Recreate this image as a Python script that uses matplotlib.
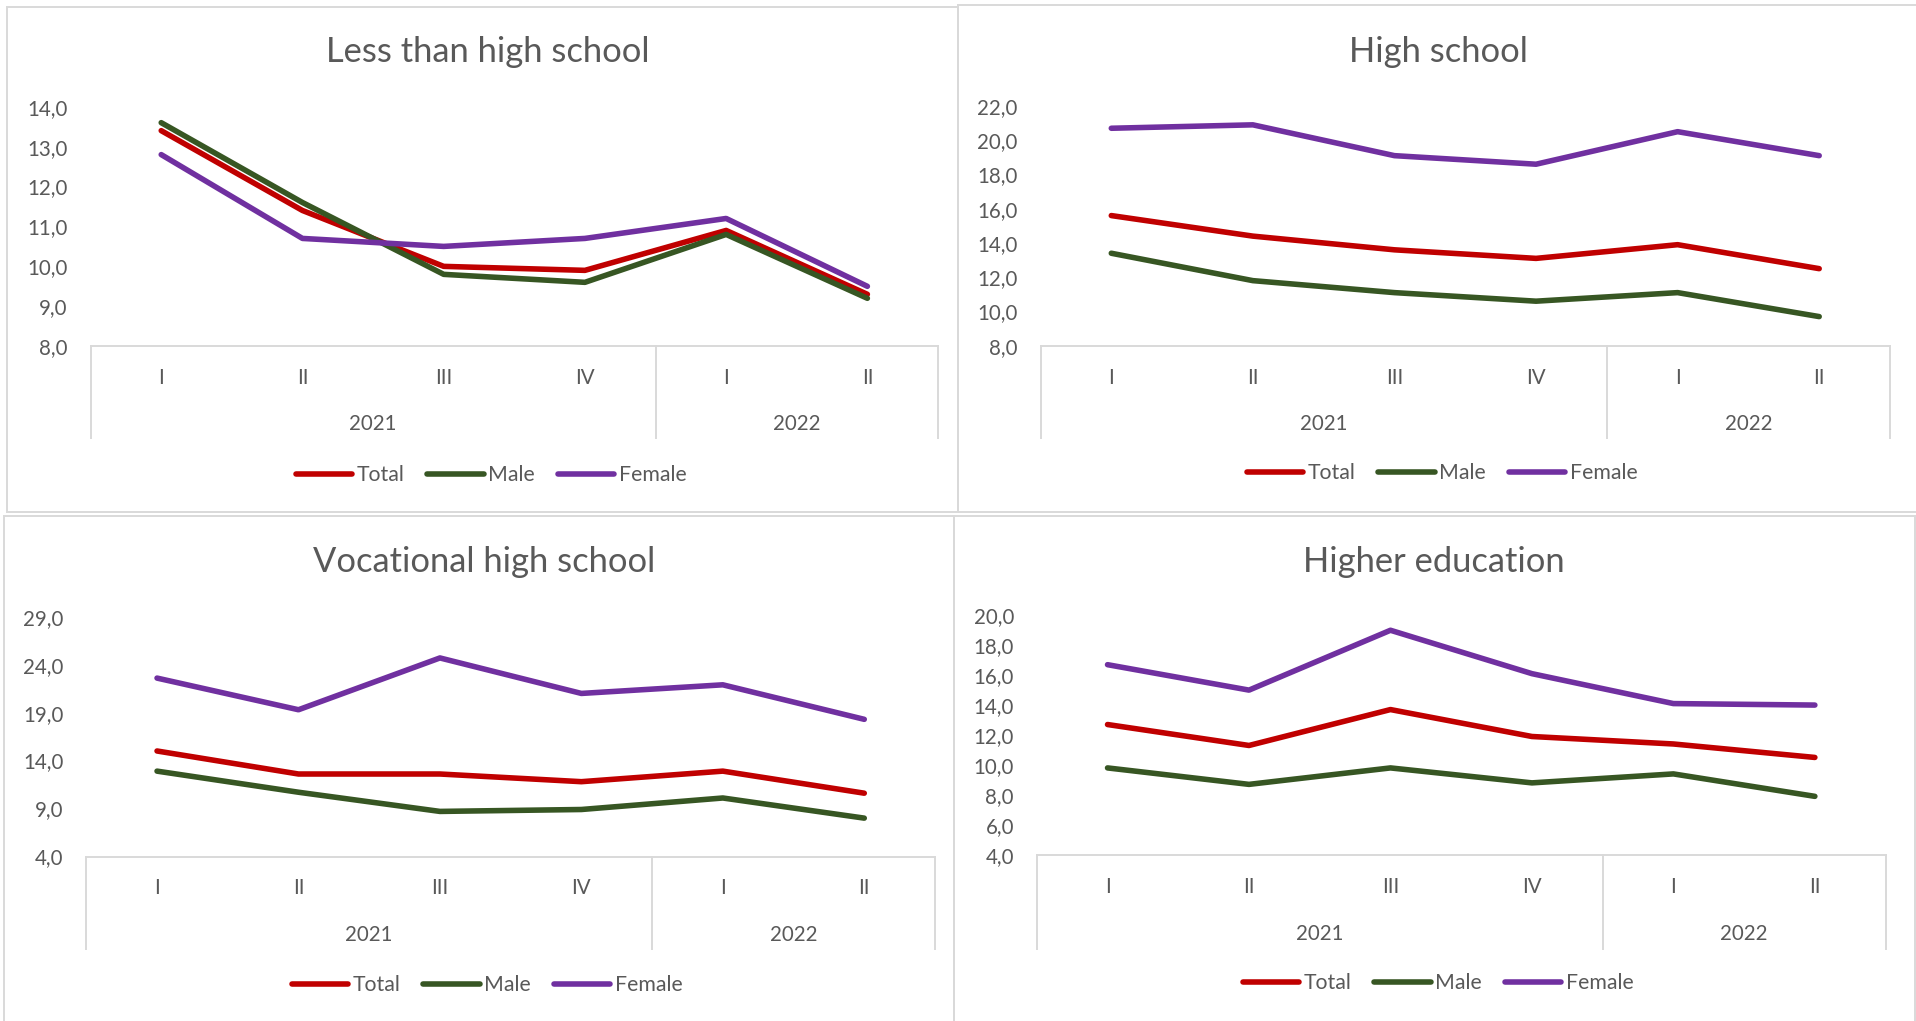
import numpy as np
import matplotlib
matplotlib.use("Agg")
import matplotlib.pyplot as plt
import matplotlib.transforms as mtransforms
from matplotlib.patches import Rectangle
from matplotlib.lines import Line2D

plt.rcParams["font.family"] = ["Lato", "DejaVu Sans"]

# ─────────────────────────────────────────────────────────────
#  Data
# ─────────────────────────────────────────────────────────────
quarters = ["I", "II", "III", "IV", "I", "II"]
years = ["2021", "2022"]
year_spans = [4, 2]
series_names = ["Total", "Male", "Female"]

less_total = [13.4, 11.4, 10.0, 9.9, 10.9, 9.3]
less_male = [13.6, 11.6, 9.8, 9.6, 10.8, 9.2]
less_female = [12.8, 10.7, 10.5, 10.7, 11.2, 9.5]

hs_total = [15.6, 14.4, 13.6, 13.1, 13.9, 12.5]
hs_male = [13.4, 11.8, 11.1, 10.6, 11.1, 9.7]
hs_female = [20.7, 20.9, 19.1, 18.6, 20.5, 19.1]

voc_total = [15.0, 12.6, 12.6, 11.8, 12.9, 10.6]
voc_male = [12.9, 10.7, 8.7, 8.9, 10.1, 8.0]
voc_female = [22.6, 19.3, 24.7, 21.0, 21.9, 18.3]

he_total = [12.7, 11.3, 13.7, 11.9, 11.4, 10.5]
he_male = [9.8, 8.7, 9.8, 8.8, 9.4, 7.9]
he_female = [16.7, 15.0, 19.0, 16.1, 14.1, 14.0]

less_ticks = np.arange(8, 14.1, 1)
hs_ticks = np.arange(8, 22.1, 2)
voc_ticks = np.arange(4, 29.1, 5)
he_ticks = np.arange(4, 20.1, 2)

# ─────────────────────────────────────────────────────────────
#  Style
# ─────────────────────────────────────────────────────────────
COLORS = ["#C00000", "#375623", "#7030A0"]
TEXT = "#595959"
GRID = "#D9D9D9"
W, H = 1916, 1021
LW = 4.0
LABEL_FS = 14.8


def fx(px):
    return px / W


def fy(py):
    return 1 - py / H


def draw_panel(fig, title, series, ticks, frame, box, tick_top, tick_bot,
               box_bottom, q_y, yr_y, title_xy, legend_xy):
    # panel frame (pixel coords, top-down)
    x0, y0, x1, y1 = frame
    fig.add_artist(Rectangle((fx(x0), fy(y1)), fx(x1 - x0), (y1 - y0) / H,
                             transform=fig.transFigure, fill=False,
                             edgecolor=GRID, linewidth=1.4))

    bl, br = box
    ax = fig.add_axes([fx(bl), fy(tick_bot), fx(br - bl), (tick_bot - tick_top) / H])
    n = len(quarters)
    x = np.arange(n) + 0.5
    for vals, name, c in zip(series, series_names, COLORS):
        ax.plot(x, vals, color=c, lw=LW, label=name,
                solid_capstyle="round", solid_joinstyle="round")

    ax.set_xlim(0, n)
    ax.set_ylim(ticks[0], ticks[-1])
    ax.set_yticks(ticks)
    ax.set_yticklabels([f"{t:.1f}".replace(".", ",") for t in ticks])
    ax.set_xticks([])
    ax.tick_params(axis="y", length=0, pad=16.5, labelsize=LABEL_FS, labelcolor=TEXT)
    for s in ["top", "right", "left"]:
        ax.spines[s].set_visible(False)
    ax.spines["bottom"].set_color(GRID)
    ax.spines["bottom"].set_linewidth(1.4)
    ax.patch.set_alpha(0)

    # category box under the axis
    trans = mtransforms.blended_transform_factory(ax.transData, fig.transFigure)
    edges = [0] + list(np.cumsum(year_spans))
    for e in edges:
        ax.add_line(Line2D([e, e], [fy(tick_bot), fy(box_bottom)], transform=trans,
                           color=GRID, lw=1.4, clip_on=False))
    for xi, q in zip(x, quarters):
        ax.text(xi, fy(q_y), q, transform=trans, ha="center", va="center",
                fontsize=LABEL_FS, color=TEXT)
    for i, yr in enumerate(years):
        ax.text((edges[i] + edges[i + 1]) / 2, fy(yr_y), yr, transform=trans,
                ha="center", va="center", fontsize=LABEL_FS, color=TEXT)

    fig.text(fx(title_xy[0]), fy(title_xy[1]), title, ha="center", va="center",
             fontsize=24.8, color=TEXT)

    handles = [Line2D([], [], color=c, lw=LW, solid_capstyle="round") for c in COLORS]
    leg = fig.legend(handles, series_names, loc="center",
                     bbox_to_anchor=(fx(legend_xy[0]), fy(legend_xy[1])),
                     ncol=3, frameon=False, fontsize=15.3, handlelength=2.65,
                     handletextpad=0.2, columnspacing=1.1, borderpad=0)
    for t in leg.get_texts():
        t.set_color(TEXT)
    return ax


fig = plt.figure(figsize=(W / 100, H / 100), dpi=100)
fig.patch.set_facecolor("white")

draw_panel(fig, "Less than high school", [less_total, less_male, less_female],
           less_ticks, frame=(7, 7, 958, 512), box=(90.6, 938),
           tick_top=106.7, tick_bot=346.2, box_bottom=438,
           q_y=377.5, yr_y=424, title_xy=(488, 51.7), legend_xy=(491, 475))

draw_panel(fig, "High school", [hs_total, hs_male, hs_female],
           hs_ticks, frame=(958, 5.5, 1925, 512), box=(1040.5, 1890),
           tick_top=106, tick_bot=345.7, box_bottom=438,
           q_y=377.5, yr_y=423.5, title_xy=(1438.5, 51.7), legend_xy=(1442, 473))

draw_panel(fig, "Vocational high school", [voc_total, voc_male, voc_female],
           voc_ticks, frame=(4, 516, 954, 1030), box=(86.3, 935),
           tick_top=616.7, tick_bot=856.5, box_bottom=949.3,
           q_y=887.5, yr_y=934.5, title_xy=(483.8, 561.7), legend_xy=(487, 985))

draw_panel(fig, "Higher education", [he_total, he_male, he_female],
           he_ticks, frame=(954, 516, 1915, 1030), box=(1036.8, 1885.6),
           tick_top=615.3, tick_bot=854.7, box_bottom=948.5,
           q_y=886.8, yr_y=934, title_xy=(1433.6, 561.7), legend_xy=(1438, 983.3))

fig.savefig("out.png", dpi=100, facecolor="white")
